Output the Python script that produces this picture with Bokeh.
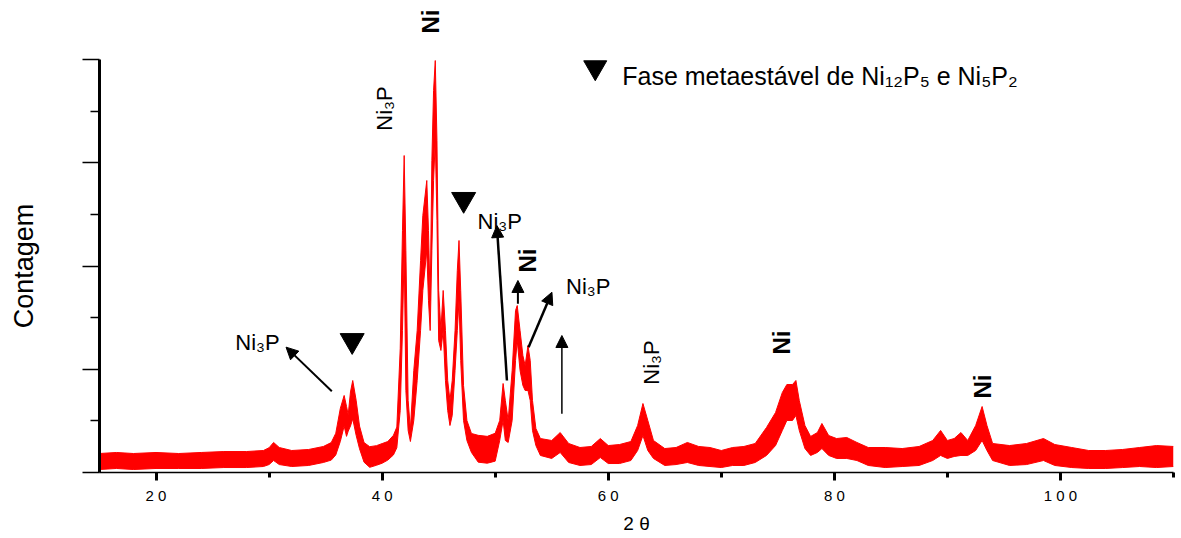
import math
from bokeh.plotting import figure
from bokeh.models import Range1d, FixedTicker, Label, Arrow, NormalHead, ColumnDataSource, LinearAxis
from bokeh.embed import file_html
from bokeh.resources import INLINE

# ---- data (upper / lower edge of the noisy trace) ----
two_theta = [15.0, 16.5, 18.0, 20.0, 22.0, 24.0, 26.0, 28.0, 29.5, 30.0, 30.4, 30.9, 32.0, 33.5, 34.8,
             35.5, 35.9, 36.3, 36.64, 36.85, 37.0, 37.2, 37.4, 37.7, 38.0, 38.4, 38.9, 39.5, 40.0, 40.5,
             41.0, 41.3, 41.6, 41.8, 41.95, 42.1, 42.3, 42.5, 42.8, 43.1, 43.4, 43.6, 43.95, 44.1, 44.25,
             44.4, 44.55, 44.7, 44.85, 45.0, 45.2, 45.4, 45.6, 45.8, 46.0, 46.2, 46.45, 46.65, 46.8, 46.95,
             47.2, 47.5, 47.9, 48.5, 49.3, 50.0, 50.4, 50.7, 50.9, 51.15, 51.5, 51.8, 51.95, 52.2, 52.45,
             52.65, 52.9, 53.1, 53.3, 53.6, 54.0, 55.0, 55.75, 56.5, 57.5, 58.5, 59.3, 60.0, 61.0, 62.0,
             62.6, 63.07, 63.5, 64.0, 65.0, 66.0, 67.0, 68.0, 69.0, 70.0, 71.0, 72.0, 73.0, 74.0, 74.8,
             75.4, 75.8, 76.3, 76.6, 76.9, 77.4, 77.9, 78.5, 78.9, 79.5, 80.2, 81.1, 82.0, 83.0, 84.5,
             86.0, 87.5, 88.7, 89.4, 90.0, 90.6, 91.2, 91.8, 92.5, 93.07, 93.5, 94.0, 95.5, 97.0, 98.5,
             99.5, 101.0, 102.5, 104.0, 105.5, 107.0, 108.5, 110.0]
count_high = [184, 194, 184, 194, 184, 194, 203, 203, 213, 240, 291, 242, 213, 223, 252,
              290, 380, 620, 746, 640, 560, 780, 891, 700, 450, 290, 250, 260, 280, 300,
              360, 440, 1200, 2344, 3070, 2150, 697, 420, 988, 1375, 2053, 2489, 2828, 2344, 1666,
              3022, 3700, 3990, 3215, 1763, 1375, 1763, 1375, 891, 697, 891, 1375, 1956, 2247, 1763,
              843, 504, 378, 360, 350, 380, 504, 862, 697, 504, 988, 1569, 1617, 1375, 1133,
              1036, 1230, 1085, 697, 426, 329, 310, 387, 281, 242, 252, 329, 261, 271, 300,
              455, 668, 504, 310, 232, 242, 291, 252, 242, 213, 242, 252, 281, 436, 581,
              775, 852, 852, 891, 697, 455, 349, 387, 475, 358, 329, 339, 291, 242, 242,
              232, 252, 310, 407, 310, 329, 387, 310, 455, 639, 455, 281, 261, 281, 329,
              271, 242, 213, 213, 223, 242, 261, 252]
count_low = [29, 39, 29, 39, 39, 39, 48, 48, 58, 77, 116, 77, 58, 68, 97,
             120, 170, 300, 450, 350, 400, 450, 520, 360, 230, 100, 50, 70, 90, 120,
             170, 240, 600, 1375, 2150, 794, 407, 300, 504, 891, 1375, 1763, 2150, 1666, 1375,
             2150, 2828, 3215, 2441, 1278, 1182, 1375, 891, 600, 455, 552, 988, 1375, 1666, 1085,
             504, 310, 194, 100, 90, 110, 310, 504, 310, 291, 504, 1085, 1278, 988, 843,
             794, 794, 697, 407, 261, 165, 136, 194, 97, 68, 77, 145, 87, 87, 116,
             213, 358, 213, 136, 68, 77, 97, 68, 58, 48, 68, 68, 97, 165, 261,
             407, 504, 504, 552, 407, 232, 165, 194, 232, 165, 136, 136, 116, 68, 48,
             58, 68, 116, 165, 136, 155, 165, 165, 213, 310, 213, 116, 68, 77, 116,
             68, 48, 39, 39, 48, 58, 48, 58]

x_major_ticks = [20, 40, 60, 80, 100]
x_minor_ticks = [30, 50, 70, 90, 110]
x_tick_labels = ["2 0", "4 0", "6 0", "8 0", "1 0 0"]
y_major_ticks = [0, 1000, 2000, 3000, 4000]
y_minor_ticks = [500, 1500, 2500, 3500]

phase_marker_x = [37.35, 47.21]
phase_marker_y = [1278, 2645]

FONT = "Liberation Sans"

p = figure(width=1181, height=538, x_range=Range1d(15, 110), y_range=Range1d(0, 4000),
           output_backend="svg", toolbar_location=None,
           min_border_left=99, min_border_right=8, min_border_top=59, min_border_bottom=66)
p.outline_line_color = None
p.xgrid.visible = False
p.ygrid.visible = False
p.background_fill_color = "white"
p.border_fill_color = "white"

src = ColumnDataSource(dict(x=two_theta, hi=count_high, lo=count_low))
p.varea(x="x", y1="lo", y2="hi", source=src, fill_color="#ff0000")
p.line(x="x", y="hi", source=src, line_color="#ff0000", line_width=1)
p.line(x="x", y="lo", source=src, line_color="#ff0000", line_width=1)

# x axis
xa = p.xaxis[0]
xa.ticker = FixedTicker(ticks=x_major_ticks, minor_ticks=x_minor_ticks)
xa.major_label_overrides = {t: l for t, l in zip(x_major_ticks, x_tick_labels)}
xa.axis_line_width = 1.5
xa.axis_line_color = "black"
xa.major_tick_in = 0
xa.major_tick_out = 8
xa.major_tick_line_width = 3
xa.minor_tick_in = 0
xa.minor_tick_out = 5
xa.minor_tick_line_width = 3
xa.major_label_text_font = FONT
xa.major_label_text_font_size = "15px"
xa.major_label_text_color = "black"
xa.major_label_standoff = 6
xa.axis_label = "2 θ"
xa.axis_label_text_font = FONT
xa.axis_label_text_font_size = "19px"
xa.axis_label_text_font_style = "normal"
xa.axis_label_text_color = "black"
xa.axis_label_standoff = 6

# y axis (ticks only, no tick labels)
ya = p.yaxis[0]
ya.ticker = FixedTicker(ticks=y_major_ticks, minor_ticks=y_minor_ticks)
ya.major_label_overrides = {t: "" for t in y_major_ticks}
ya.major_label_text_font_size = "10px"
ya.major_label_standoff = 0
ya.axis_line_width = 3
ya.axis_line_color = "black"
ya.major_tick_in = 0
ya.major_tick_out = 17
ya.major_tick_line_width = 1.5
ya.minor_tick_in = 0
ya.minor_tick_out = 9
ya.minor_tick_line_width = 1.5
ya.axis_label = "Contagem"
ya.axis_label_text_font = FONT
ya.axis_label_text_font_size = "27px"
ya.axis_label_text_font_style = "normal"
ya.axis_label_text_color = "black"
ya.axis_label_standoff = 44

# top "Ni" label for the main peak, placed above the frame through an unlined top axis
top_ni_position = [44.25]
top_axis = LinearAxis(ticker=FixedTicker(ticks=top_ni_position, minor_ticks=[]),
                      major_label_overrides={top_ni_position[0]: "Ni"},
                      major_label_orientation="vertical",
                      major_label_text_font=FONT, major_label_text_font_size="24px",
                      major_label_text_font_style="bold", major_label_text_color="black",
                      major_label_standoff=26, major_tick_out=0, major_tick_in=0,
                      minor_tick_out=0, minor_tick_in=0,
                      axis_line_color=None, major_tick_line_color=None, minor_tick_line_color=None)
p.add_layout(top_axis, "above")

# phase markers
p.scatter(x=phase_marker_x, y=phase_marker_y, marker="inverted_triangle", size=24,
          fill_color="black", line_color="black")
p.scatter(x=[58.85], y=[3923], marker="inverted_triangle", size=23,
          fill_color="black", line_color="black")
p.add_layout(Label(x=61.24, y=3845, text="Fase metaestável de Ni₁₂P₅ e Ni₅P₂",
                   text_font=FONT, text_font_size="25px", text_color="black",
                   text_align="left", text_baseline="alphabetic"))

# bold Ni labels (rotated)
for (lx, ly) in [(52.83, 2053), (75.31, 1259), (93.1, 833)]:
    p.add_layout(Label(x=lx, y=ly, text="Ni", angle=math.pi / 2, text_font=FONT,
                       text_font_size="24px", text_font_style="bold", text_color="black",
                       text_align="center", text_baseline="middle"))

# Ni3P labels rotated
for (lx, ly) in [(40.18, 3525), (63.8, 1065)]:
    p.add_layout(Label(x=lx, y=ly, text="Ni₃P", angle=math.pi / 2, text_font=FONT,
                       text_font_size="22px", text_color="black",
                       text_align="center", text_baseline="middle"))

# Ni3P labels horizontal
for (lx, ly) in [(28.98, 1259), (50.4, 2434), (58.23, 1801)]:
    p.add_layout(Label(x=lx, y=ly, text="Ni₃P", text_font=FONT,
                       text_font_size="22px", text_color="black",
                       text_align="center", text_baseline="alphabetic"))

# arrows
arrows = [
    (35.55, 787, 31.5, 1214, 2),
    (51.04, 891, 50.15, 2392, 2.5),
    (52.01, 1634, 52.01, 1860, 2),
    (52.95, 1214, 55.02, 1746, 2.5),
    (55.9, 568, 55.9, 1327, 1.5),
]
for (x0, y0, x1, y1, lw) in arrows:
    p.add_layout(Arrow(end=NormalHead(size=12, fill_color="black", line_color="black", line_width=1),
                       x_start=x0, y_start=y0, x_end=x1, y_end=y1,
                       line_color="black", line_width=lw))

open("out.html", "w").write(file_html(p, INLINE))
